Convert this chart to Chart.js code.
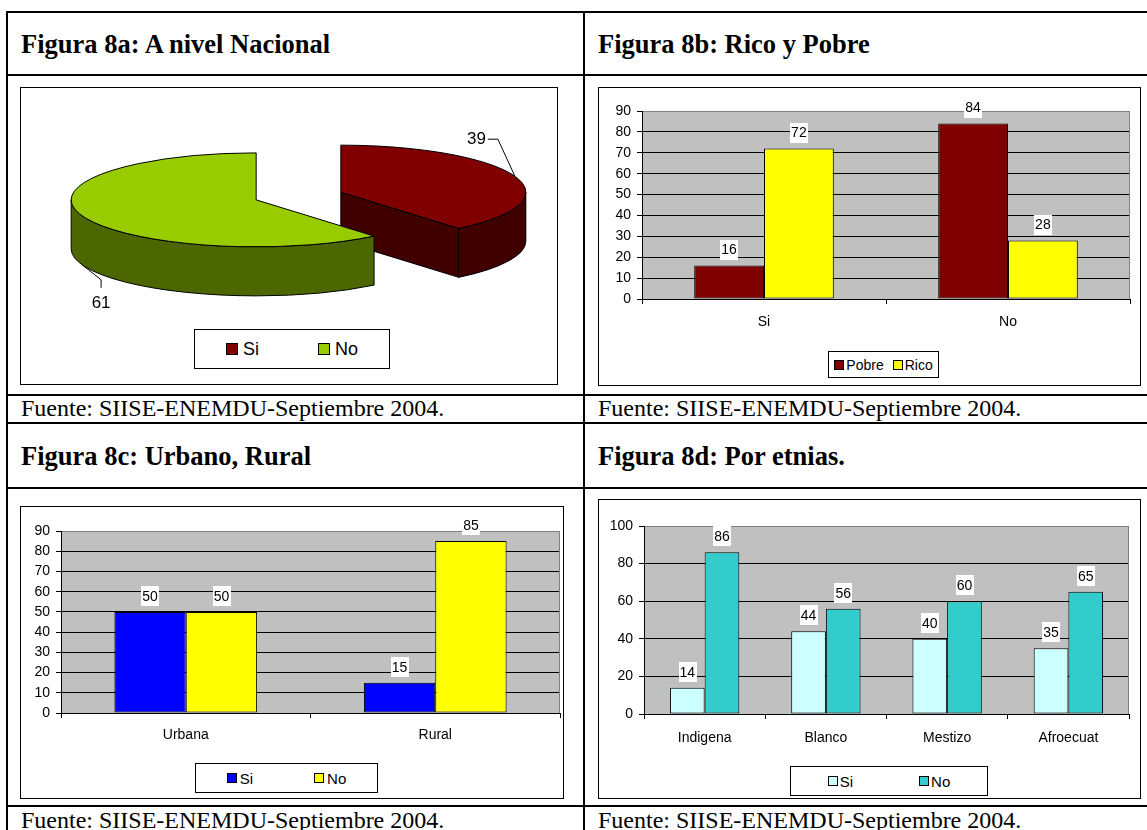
<!DOCTYPE html>
<html lang="es">
<head>
    <meta charset="UTF-8">
    <title>Figura 8</title>
    <script src="https://cdnjs.cloudflare.com/ajax/libs/Chart.js/4.4.1/chart.umd.min.js"></script>
    <style>
        body {
            margin: 0;
            width: 1147px;
            height: 830px;
            overflow: hidden;
            position: relative;
            background: #fff;
            font-family: 'Liberation Sans', Arial, sans-serif;
        }
        .hline, .vline { position: absolute; background: #000; }
        .hline { left: 6px; right: 0; height: 2px; }
        .vline { top: 11px; bottom: 0; width: 2px; }
        .title {
            position: absolute;
            font: bold 26.5px/26.5px 'Liberation Serif', 'Times New Roman', serif;
            white-space: nowrap;
        }
        .source {
            position: absolute;
            font: 24px/24px 'Liberation Serif', 'Times New Roman', serif;
            white-space: nowrap;
        }
        .box {
            position: absolute;
            border: 1px solid #000;
            box-sizing: border-box;
            background: #fff;
        }
        .box canvas { position: absolute; left: 0; top: 0; }
        .legend {
            position: absolute;
            border: 1px solid #000;
            box-sizing: border-box;
            background: #fff;
            display: flex;
            align-items: center;
            justify-content: center;
            line-height: 1;
        }
        .legend .item { display: flex; align-items: center; white-space: nowrap; }
        .legend .swatch { display: inline-block; border: 1px solid #000; box-sizing: border-box; }
    </style>
</head>
<body>
    <div class="hline" style="top:11px"></div>
    <div class="hline" style="top:74px"></div>
    <div class="hline" style="top:394px"></div>
    <div class="hline" style="top:422px"></div>
    <div class="hline" style="top:487px"></div>
    <div class="hline" style="top:805px"></div>
    <div class="vline" style="left:6px"></div>
    <div class="vline" style="left:583px"></div>

    <div class="title" style="left:21px;top:31px">Figura 8a: A nivel Nacional</div>
    <div class="title" style="left:598px;top:31px">Figura 8b: Rico y Pobre</div>
    <div class="title" style="left:21px;top:443px">Figura 8c: Urbano, Rural</div>
    <div class="title" style="left:598px;top:443px">Figura 8d: Por etnias.</div>

    <div class="source" style="left:21px;top:396px">Fuente: SIISE-ENEMDU-Septiembre 2004.</div>
    <div class="source" style="left:598px;top:396px">Fuente: SIISE-ENEMDU-Septiembre 2004.</div>
    <div class="source" style="left:21px;top:808px">Fuente: SIISE-ENEMDU-Septiembre 2004.</div>
    <div class="source" style="left:598px;top:808px">Fuente: SIISE-ENEMDU-Septiembre 2004.</div>

    <div class="box" style="left:20px;top:87px;width:538px;height:298px">
        <canvas id="chart8a" width="536" height="296"></canvas>
    </div>
    <div class="box" style="left:598px;top:87px;width:543px;height:299px">
        <canvas id="chart8b" width="541" height="297"></canvas>
    </div>
    <div class="box" style="left:20px;top:506px;width:544px;height:293px">
        <canvas id="chart8c" width="542" height="291"></canvas>
    </div>
    <div class="box" style="left:598px;top:499px;width:543px;height:300px">
        <canvas id="chart8d" width="541" height="298"></canvas>
    </div>

    <script>
        // Figura 8a
        const pieLabels = ['Si', 'No'];
        const pieValues = [39, 61];

        // Figura 8b
        const incomeGroups = ['Si', 'No'];
        const pobreValues = [16, 84];
        const ricoValues = [72, 28];

        // Figura 8c
        const areaGroups = ['Urbana', 'Rural'];
        const areaSiValues = [50, 15];
        const areaNoValues = [50, 85];

        // Figura 8d
        const ethnicGroups = ['Indigena', 'Blanco', 'Mestizo', 'Afroecuat'];
        const ethnicSiValues = [14, 44, 40, 35];
        const ethnicNoValues = [86, 56, 60, 65];

        const pieColors = ['#800000', '#99CC00'];
        const pieSideColors = ['#400000', '#4C6600'];

        Chart.defaults.font.family = '"Liberation Sans", Arial, sans-serif';
        Chart.defaults.color = '#000';

        // fake 3D pie: flatten the arcs into ellipses and add a wall under them
        const pie3d = {
            id: 'pie3d',
            beforeDatasetsDraw(chart, args, opts) {
                const ctx = chart.ctx;
                const ds = chart.data.datasets[0];
                const d = opts.depth;
                const slices = chart.getDatasetMeta(0).data.map((arc, i) => {
                    const p = arc.getProps(['x', 'y', 'startAngle', 'endAngle', 'outerRadius']);
                    const mid = (p.startAngle + p.endAngle) / 2;
                    return {
                        i, mid,
                        a0: p.startAngle, a1: p.endAngle,
                        rx: p.outerRadius, ry: p.outerRadius * opts.tilt,
                        cx: p.x + Math.cos(mid) * opts.explode,
                        cy: p.y + Math.sin(mid) * opts.explode * opts.tilt
                    };
                });
                slices.sort((a, b) => a.cy - b.cy);

                ctx.save();
                ctx.lineWidth = 1;
                ctx.strokeStyle = '#000';
                ctx.lineJoin = 'round';
                slices.forEach(s => {
                    const side = opts.sideColors[s.i];
                    const wall = a => {
                        const x = s.cx + s.rx * Math.cos(a), y = s.cy + s.ry * Math.sin(a);
                        ctx.beginPath();
                        ctx.moveTo(s.cx, s.cy);
                        ctx.lineTo(x, y);
                        ctx.lineTo(x, y + d);
                        ctx.lineTo(s.cx, s.cy + d);
                        ctx.closePath();
                        ctx.fillStyle = side;
                        ctx.fill();
                        ctx.stroke();
                    };
                    if (Math.cos(s.a0) < -1e-6) wall(s.a0);
                    if (Math.cos(s.a1) > 1e-6) wall(s.a1);
                    for (let k = -1; k <= 1; k++) {
                        const lo = Math.max(s.a0, 2 * Math.PI * k);
                        const hi = Math.min(s.a1, 2 * Math.PI * k + Math.PI);
                        if (hi <= lo) continue;
                        ctx.beginPath();
                        ctx.ellipse(s.cx, s.cy, s.rx, s.ry, 0, lo, hi);
                        ctx.ellipse(s.cx, s.cy + d, s.rx, s.ry, 0, hi, lo, true);
                        ctx.closePath();
                        ctx.fillStyle = side;
                        ctx.fill();
                        ctx.stroke();
                    }
                    ctx.beginPath();
                    ctx.moveTo(s.cx, s.cy);
                    ctx.ellipse(s.cx, s.cy, s.rx, s.ry, 0, s.a0, s.a1);
                    ctx.closePath();
                    ctx.fillStyle = ds.backgroundColor[s.i];
                    ctx.fill();
                    ctx.stroke();
                });

                // value labels with leader lines
                ctx.font = '17px "Liberation Sans", Arial, sans-serif';
                ctx.textBaseline = 'middle';
                slices.forEach(s => {
                    const L = opts.leaders[s.i];
                    const ax = s.cx + s.rx * Math.cos(s.mid);
                    let ay = s.cy + s.ry * Math.sin(s.mid);
                    if (Math.sin(s.mid) > 0) ay += d;
                    ctx.beginPath();
                    ctx.moveTo(ax, ay);
                    L.path.forEach(([dx, dy]) => ctx.lineTo(ax + dx, ay + dy));
                    ctx.stroke();
                    ctx.fillStyle = '#000';
                    ctx.textAlign = L.align;
                    ctx.fillText(String(ds.data[s.i]), ax + L.text[0], ay + L.text[1]);
                });
                ctx.restore();
                return false;
            }
        };

        const plotBg = {
            id: 'plotBg',
            beforeDraw(chart) {
                const { ctx, chartArea: a } = chart;
                ctx.save();
                ctx.fillStyle = '#C0C0C0';
                ctx.fillRect(a.left, a.top, a.right - a.left, a.bottom - a.top);
                ctx.restore();
            },
            beforeDatasetsDraw(chart) {
                const { ctx, chartArea: a } = chart;
                ctx.save();
                ctx.strokeStyle = '#808080';
                ctx.lineWidth = 1;
                ctx.beginPath();
                ctx.moveTo(Math.round(a.right) - 0.5, a.top);
                ctx.lineTo(Math.round(a.right) - 0.5, a.bottom);
                ctx.stroke();
                ctx.restore();
            }
        };

        const barValues = {
            id: 'barValues',
            afterDatasetsDraw(chart) {
                const ctx = chart.ctx;
                ctx.save();
                ctx.font = '14px "Liberation Sans", Arial, sans-serif';
                ctx.textAlign = 'center';
                ctx.textBaseline = 'middle';
                chart.data.datasets.forEach((ds, di) => {
                    chart.getDatasetMeta(di).data.forEach((bar, i) => {
                        const txt = String(ds.data[i]);
                        const w = ctx.measureText(txt).width;
                        const y = bar.y - 16;
                        ctx.fillStyle = '#fff';
                        ctx.fillRect(Math.round(bar.x - w / 2 - 1), Math.round(y - 10), Math.ceil(w + 2), 20);
                        ctx.fillStyle = '#000';
                        ctx.fillText(txt, bar.x, y + 1);
                    });
                });
                ctx.restore();
            }
        };

        function barChart(id, labels, series, yMax, yStep, area, labelPad) {
            const canvas = document.getElementById(id);
            const W = canvas.width, H = canvas.height;
            return new Chart(canvas, {
                type: 'bar',
                data: {
                    labels: labels,
                    datasets: series.map(s => ({
                        label: s.name,
                        data: s.values,
                        backgroundColor: s.color,
                        borderColor: '#000',
                        borderWidth: 1,
                        borderSkipped: false,
                        categoryPercentage: 0.572,
                        barPercentage: 1
                    }))
                },
                options: {
                    responsive: false,
                    animation: false,
                    layout: { padding: { left: 0, top: area.top, right: W - area.right, bottom: 0 } },
                    plugins: {
                        legend: { display: false },
                        tooltip: { enabled: false }
                    },
                    scales: {
                        x: {
                            grid: { drawOnChartArea: false, drawTicks: true, tickLength: 5, color: '#000', offset: true },
                            border: { color: '#000', width: 1 },
                            ticks: { color: '#000', font: { size: 14 }, padding: labelPad, maxRotation: 0, autoSkip: false },
                            afterFit: sc => { sc.height = H - area.bottom; }
                        },
                        y: {
                            min: 0,
                            max: yMax,
                            ticks: { stepSize: yStep, color: '#000', font: { size: 14 }, padding: 6 },
                            grid: {
                                color: c => (c.tick && c.tick.value === yMax) ? '#808080' : '#000',
                                tickColor: '#000',
                                tickLength: 5,
                                lineWidth: 1
                            },
                            border: { color: '#000', width: 1 },
                            afterFit: sc => { sc.width = area.left; }
                        }
                    }
                },
                plugins: [plotBg, barValues]
            });
        }

        function legend(spec) {
            const el = document.createElement('div');
            el.className = 'legend';
            Object.assign(el.style, {
                left: spec.left + 'px', top: spec.top + 'px',
                width: spec.width + 'px', height: spec.height + 'px',
                gap: spec.gap + 'px', fontSize: spec.size + 'px'
            });
            spec.names.forEach((name, i) => {
                const item = document.createElement('span');
                item.className = 'item';
                const sw = document.createElement('span');
                sw.className = 'swatch';
                Object.assign(sw.style, {
                    width: spec.swatch + 'px', height: spec.swatch + 'px',
                    background: spec.colors[i], marginRight: spec.inner + 'px'
                });
                const txt = document.createElement('span');
                txt.textContent = name;
                item.appendChild(sw);
                item.appendChild(txt);
                el.appendChild(item);
            });
            document.body.appendChild(el);
        }

        // 8a
        new Chart(document.getElementById('chart8a'), {
            type: 'pie',
            data: {
                labels: pieLabels,
                datasets: [{
                    data: pieValues,
                    backgroundColor: pieColors,
                    borderColor: '#000',
                    borderWidth: 1,
                    radius: 185
                }]
            },
            options: {
                responsive: false,
                animation: false,
                radius: 185,
                layout: { padding: { left: 19, top: 0, right: 0, bottom: 80 } },
                plugins: {
                    legend: { display: false },
                    tooltip: { enabled: false },
                    pie3d: {
                        tilt: 0.254,
                        depth: 49,
                        explode: 45,
                        sideColors: pieSideColors,
                        leaders: [
                            { path: [[-17, -37], [-27, -37]], text: [-29, -37], align: 'right' },
                            { path: [[19, 15], [19, 23]], text: [19, 39], align: 'center' }
                        ]
                    }
                }
            },
            plugins: [pie3d]
        });
        legend({ left: 194, top: 329, width: 196, height: 40, size: 18, swatch: 12, inner: 5, gap: 59,
                 names: pieLabels, colors: pieColors });

        // 8b
        barChart('chart8b', incomeGroups, [
            { name: 'Pobre', values: pobreValues, color: '#800000' },
            { name: 'Rico', values: ricoValues, color: '#FFFF00' }
        ], 90, 10, { left: 43, top: 23, right: 531, bottom: 211 }, 10);
        legend({ left: 828, top: 351, width: 111, height: 27, size: 14, swatch: 10, inner: 2, gap: 9,
                 names: ['Pobre', 'Rico'], colors: ['#800000', '#FFFF00'] });

        // 8c
        barChart('chart8c', areaGroups, [
            { name: 'Si', values: areaSiValues, color: '#0000FF' },
            { name: 'No', values: areaNoValues, color: '#FFFF00' }
        ], 90, 10, { left: 40, top: 24, right: 539, bottom: 206 }, 9);
        legend({ left: 195, top: 763, width: 183, height: 30, size: 15, swatch: 10, inner: 3, gap: 61,
                 names: ['Si', 'No'], colors: ['#0000FF', '#FFFF00'] });

        // 8d
        barChart('chart8d', ethnicGroups, [
            { name: 'Si', values: ethnicSiValues, color: '#CCFFFF' },
            { name: 'No', values: ethnicNoValues, color: '#33CCCC' }
        ], 100, 20, { left: 45, top: 26, right: 530, bottom: 214 }, 11);
        legend({ left: 790, top: 766, width: 198, height: 30, size: 15, swatch: 10, inner: 2, gap: 66,
                 names: ['Si', 'No'], colors: ['#CCFFFF', '#33CCCC'] });
    </script>
</body>
</html>
